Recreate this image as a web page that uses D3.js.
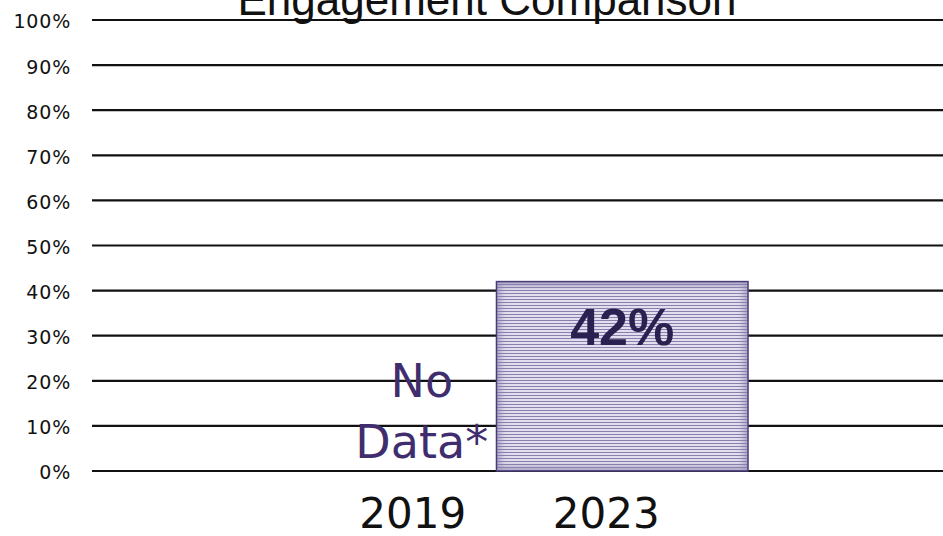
<!DOCTYPE html>
<html>
<head>
<meta charset="utf-8">
<script src="https://cdn.jsdelivr.net/npm/d3@7"></script>
<style>
  body { margin: 0; background: #fff; }
  svg { display: block; font-family: "DejaVu Sans", sans-serif; }
</style>
</head>
<body>
<div id="chart"></div>
<script>
// data
var years = ["2019", "2023"];
var engagement = [null, 42];   // 2019 has no data
var yTicks = [0, 10, 20, 30, 40, 50, 60, 70, 80, 90, 100];
var noDataLines = ["No", "Data*"];

var svgWidth = 943, svgHeight = 536;
var svg = d3.select("#chart").append("svg")
    .attr("width", svgWidth)
    .attr("height", svgHeight);

// scales
var yScale = d3.scaleLinear().domain([0, 100]).range([471, 20]);
var xScale = d3.scaleBand().domain(years).range([316, 703]);
var barWidth = xScale.step() * 1.3;
var barShift = 16;   // bar sits a bit right of its label

// stripes for the bar fill
var defs = svg.append("defs");
var pat = defs.append("pattern")
    .attr("id", "stripes")
    .attr("patternUnits", "userSpaceOnUse")
    .attr("width", 8).attr("height", 3);
pat.append("rect").attr("width", 8).attr("height", 3).attr("fill", "#e2deee");
pat.append("rect").attr("y", 2).attr("width", 8).attr("height", 1).attr("fill", "#8a80ad");

// soft darker rim inside the bar
var glow = defs.append("filter").attr("id", "rim");
glow.append("feGaussianBlur").attr("stdDeviation", 3);

// gridlines
svg.append("g")
    .selectAll("line")
    .data(yTicks)
    .enter()
    .append("line")
    .attr("x1", 92).attr("x2", svgWidth)
    .attr("y1", d => yScale(d)).attr("y2", d => yScale(d))
    .attr("stroke", "#111")
    .attr("stroke-width", 2.2);

// y axis labels
var yAxis = d3.axisLeft(yScale).tickValues(yTicks).tickSize(0).tickPadding(0)
    .tickFormat(d => d + "%");
var yG = svg.append("g").attr("transform", "translate(71,0)").call(yAxis);
yG.attr("font-size", null).attr("font-family", null);
yG.select(".domain").remove();
yG.selectAll("text")
    .attr("font-size", 19)
    .attr("letter-spacing", 0.8)
    .attr("dy", "0.42em")
    .attr("fill", "#111");

// bars
var rows = years.map((y, i) => ({ year: y, value: engagement[i] }));
var withData = rows.filter(d => d.value !== null);
var barX = d => xScale(d.year) + xScale.bandwidth() / 2 + barShift - barWidth / 2;

svg.selectAll(".bar")
    .data(withData)
    .enter()
    .append("rect")
    .attr("class", "bar")
    .attr("x", barX)
    .attr("y", d => yScale(d.value))
    .attr("width", barWidth)
    .attr("height", d => yScale(0) - yScale(d.value))
    .attr("fill", "url(#stripes)");

// inner rim: blurred outline clipped to the bar
withData.forEach(function(d, i) {
    defs.append("clipPath").attr("id", "clip" + i)
        .append("rect")
        .attr("x", barX(d)).attr("y", yScale(d.value))
        .attr("width", barWidth).attr("height", yScale(0) - yScale(d.value));
    svg.append("rect")
        .attr("clip-path", "url(#clip" + i + ")")
        .attr("x", barX(d)).attr("y", yScale(d.value))
        .attr("width", barWidth).attr("height", yScale(0) - yScale(d.value))
        .attr("fill", "none")
        .attr("stroke", "#8a80ad")
        .attr("stroke-opacity", 0.7)
        .attr("stroke-width", 8)
        .attr("filter", "url(#rim)");
});

svg.selectAll(".barEdge")
    .data(withData)
    .enter()
    .append("rect")
    .attr("class", "barEdge")
    .attr("x", barX)
    .attr("y", d => yScale(d.value))
    .attr("width", barWidth)
    .attr("height", d => yScale(0) - yScale(d.value))
    .attr("fill", "none")
    .attr("stroke", "#4a3b78")
    .attr("stroke-width", 1.5);

// value labels
svg.selectAll(".val")
    .data(withData)
    .enter()
    .append("text")
    .attr("x", d => xScale(d.year) + xScale.bandwidth() / 2 + barShift)
    .attr("y", d => yScale(d.value) + 63)
    .attr("text-anchor", "middle")
    .attr("font-family", "'Liberation Sans', Arial, sans-serif")
    .attr("font-weight", "bold")
    .attr("font-size", 52)
    .attr("fill", "#2b2150")
    .text(d => d.value + "%");

// no data note for 2019
var nd = svg.append("text")
    .attr("text-anchor", "middle")
    .attr("font-size", 46)
    .attr("fill", "#3f2d6e");
nd.selectAll("tspan")
    .data(noDataLines)
    .enter()
    .append("tspan")
    .attr("x", xScale("2019") + xScale.bandwidth() / 2 + 9)
    .attr("y", (d, i) => yScale(0) - 74 + i * 61)
    .text(d => d);

// x axis labels
var xAxis = d3.axisBottom(xScale).tickSize(0).tickPadding(0);
var xG = svg.append("g").attr("transform", "translate(0,528)").call(xAxis);
xG.attr("font-size", null).attr("font-family", null);
xG.select(".domain").remove();
xG.selectAll("text").attr("font-size", 42).attr("fill", "#111").attr("dy", 0);

// title (cut off at the top)
svg.append("text")
    .attr("x", 487).attr("y", 15)
    .attr("text-anchor", "middle")
    .attr("font-size", 44)
    .attr("font-family", "'Liberation Sans', Arial, sans-serif")
    .attr("fill", "#111")
    .text("Engagement Comparison");
</script>
</body>
</html>
